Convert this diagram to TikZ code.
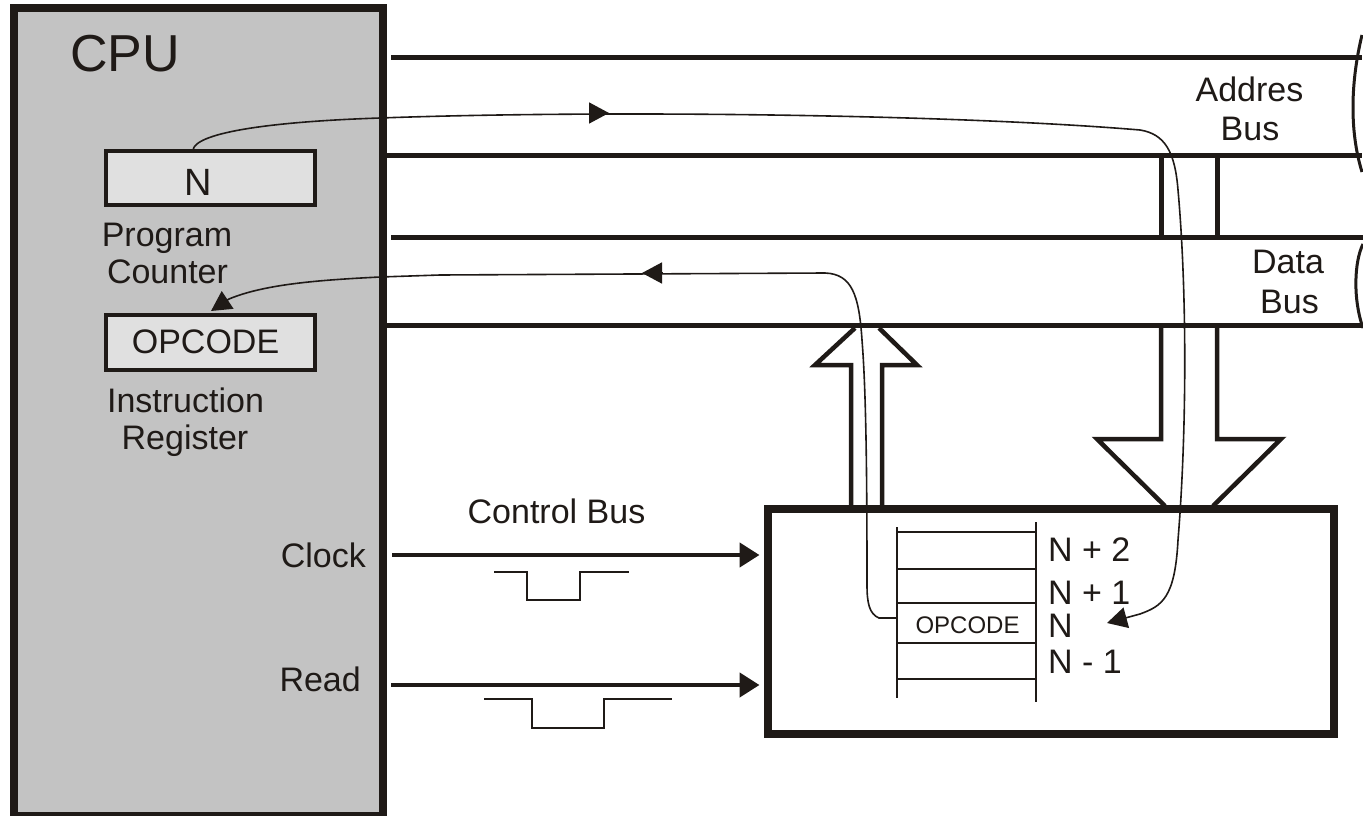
\documentclass[tikz,border=0pt]{standalone}
\usepackage{fontspec}
\setmainfont{Liberation Sans}
\usetikzlibrary{arrows.meta}
\definecolor{ink}{HTML}{1F1A17}
\definecolor{cpugray}{HTML}{C3C3C3}
\definecolor{regfill}{HTML}{E0E0E0}
\begin{document}
\begin{tikzpicture}[x=1pt,y=-1pt,
  busline/.style={line width=5pt, draw=ink},
  heavy/.style={line width=4.5pt, draw=ink, line join=miter},
  thinline/.style={line width=1.6pt, draw=ink},
  wave/.style={line width=3pt, draw=ink},
  pulse/.style={line width=2pt, draw=ink},
  cell/.style={line width=1.8pt, draw=ink},
  lbl/.style={font=\fontsize{34}{37}\selectfont, text=ink, inner sep=0pt},
  smalllbl/.style={font=\fontsize{24}{26}\selectfont, text=ink, inner sep=0pt},
  frame/.style={draw=ink, rectangle, inner sep=0pt},
  bigtip/.style={-{Triangle[length=20pt,width=24pt]}},
  thintip/.style={-{Triangle[length=20pt,width=21pt]}}
]
\useasboundingbox (0,0) rectangle (1363,816);

% CPU box
\node[frame, fill=cpugray, line width=8pt, minimum width=369pt, minimum height=807pt] (cpu) at (198.5,412) {};
% registers
\node[frame, fill=regfill, line width=4pt, minimum width=209pt, minimum height=54pt] (pc) at (210.5,178) {};
\node[frame, fill=regfill, line width=4pt, minimum width=209pt, minimum height=55pt] (ir) at (210.5,342.5) {};

% bus lines
\coordinate (a1l) at (391,58);   \coordinate (a1r) at (1362,58);
\coordinate (a2l) at (387,155.5); \coordinate (a2r) at (1362,155.5);
\coordinate (d1l) at (391,237);  \coordinate (d1r) at (1363,237);
\coordinate (d2l) at (387,325);  \coordinate (d2r) at (1363,325);
\draw[busline] (a1l) -- (a1r);
\draw[busline] (a2l) -- (a2r);
\draw[busline] (d1l) -- (d1r);
\draw[busline] (d2l) -- (d2r);
% break waves
\coordinate (wa1) at (1362,35); \coordinate (wa2) at (1362,172);
\coordinate (wd1) at (1363,244); \coordinate (wd2) at (1363,328);
\draw[wave] (wa1) .. controls (1351,80) and (1349,130) .. (wa2);
\draw[wave] (wd1) .. controls (1354,262) and (1353,300) .. (wd2);
% connectors between address and data bus
\coordinate (v1t) at (1161,155.5); \coordinate (v1b) at (1161,237);
\coordinate (v2t) at (1217,155.5); \coordinate (v2b) at (1217,237);
\draw[busline] (v1t) -- (v1b);
\draw[busline] (v2t) -- (v2b);

% memory box
\node[frame, fill=white, line width=8pt, minimum width=566.5pt, minimum height=225pt] (mem) at (1050.75,621.5) {};

% big down arrow (address + data into memory)
\coordinate (dn1) at (1161,325); \coordinate (dn2) at (1217,325);
\draw[heavy] (dn1) -- (1161,439) -- (1097,439) -- (1165,506);
\draw[heavy] (dn2) -- (1217,439) -- (1281,439) -- (1213,506);
% big up arrow (memory to data bus)
\coordinate (up1) at (851,506); \coordinate (up2) at (882,506);
\draw[heavy] (up1) -- (851,365) -- (815,365) -- (855,328);
\draw[heavy] (up2) -- (882,365) -- (917,365) -- (879,328);

% memory cells
\coordinate (tl) at (897,527); \coordinate (tlb) at (897,698);
\coordinate (tr) at (1036,522); \coordinate (trb) at (1036,702);
\draw[cell] (tl) -- (tlb);
\draw[cell] (tr) -- (trb);
\foreach \yy in {532,569,603,643,679}
  \draw[cell] (897,\yy) -- (1036,\yy);
\node[smalllbl, anchor=base] (opcmem) at (967.5,633) {OPCODE};
\node[lbl, anchor=base west] (n2) at (1048,561) {N + 2};
\node[lbl, anchor=base west] (n1) at (1048,604) {N + 1};
\node[lbl, anchor=base west] (n0) at (1048,637) {N};
\node[lbl, anchor=base west] (nm1) at (1048,673) {N - 1};

% control bus
\coordinate (clk) at (392,555);
\coordinate (rd) at (391,685);
\draw[busline, line width=4.5pt, bigtip, shorten >=4pt] (clk) -- (clk -| mem.west);
\draw[busline, line width=4.5pt, bigtip, shorten >=4pt] (rd) -- (rd -| mem.west);
\draw[pulse] (494,572) -- (527,572) -- (527,600) -- (580,600) -- (580,572) -- (629,572);
\draw[pulse] (484,699) -- (532,699) -- (532,728) -- (604,728) -- (604,699) -- (672,699);

% texts
\node[lbl, font=\fontsize{52}{56}\selectfont, anchor=base west] (cputxt) at (70,72) {CPU};
\node[lbl, font=\fontsize{38}{40}\selectfont, anchor=base] (ntxt) at (198.5,195) {N};
\node[lbl, anchor=base] (prog) at (167,246) {Program};
\node[lbl, anchor=base] (count) at (167.5,283) {Counter};
\node[lbl, anchor=base] (opc) at (205.5,353) {OPCODE};
\node[lbl, anchor=base] (instr) at (185.5,412.5) {Instruction};
\node[lbl, anchor=base] (reg) at (185,449.5) {Register};
\node[lbl, anchor=base east] (clock) at (366,567) {Clock};
\node[lbl, anchor=base east] (read) at (361,691) {Read};
\node[lbl, anchor=base] (ctrl) at (556.5,523) {Control Bus};
\node[lbl, anchor=base] (addr1) at (1249.5,102) {Addres};
\node[lbl, anchor=base] (addr2) at (1250,140) {Bus};
\node[lbl, anchor=base] (data1) at (1288,273) {Data};
\node[lbl, anchor=base] (data2) at (1289.5,313) {Bus};

% thin path: program counter -> memory location N
\coordinate (pcout) at (193,150);
\coordinate (memN) at (1107,623);
\draw[thinline, thintip] (pcout) .. controls (195,134) and (260,122) .. (380,118)
   .. controls (600,110) and (950,114) .. (1140,130)
   .. controls (1165,134) and (1175,152) .. (1178,190)
   .. controls (1187,290) and (1187,430) .. (1178,540)
   .. controls (1175,598) and (1162,606) .. (1140,614)
   -- (memN);
\coordinate (mA1) at (589,113); \coordinate (mA2) at (609,113);
\draw[thinline, thintip] (mA1) -- (mA2);

% thin path: memory OPCODE -> instruction register
\coordinate (memop) at (897,618);
\coordinate (irin) at (211,311);
\draw[thinline, thintip] (memop) -- (879,618)
   .. controls (869,614) and (867,602) .. (867,585)
   .. controls (867,470) and (866,390) .. (862,340)
   .. controls (859,295) and (852,274) .. (825,273)
   -- (440,275) -- (380,277)
   .. controls (320,280) and (265,284) .. (229,299)
   -- (irin);
\coordinate (mB1) at (662,273); \coordinate (mB2) at (642,273);
\draw[thinline, thintip] (mB1) -- (mB2);
\end{tikzpicture}
\end{document}
